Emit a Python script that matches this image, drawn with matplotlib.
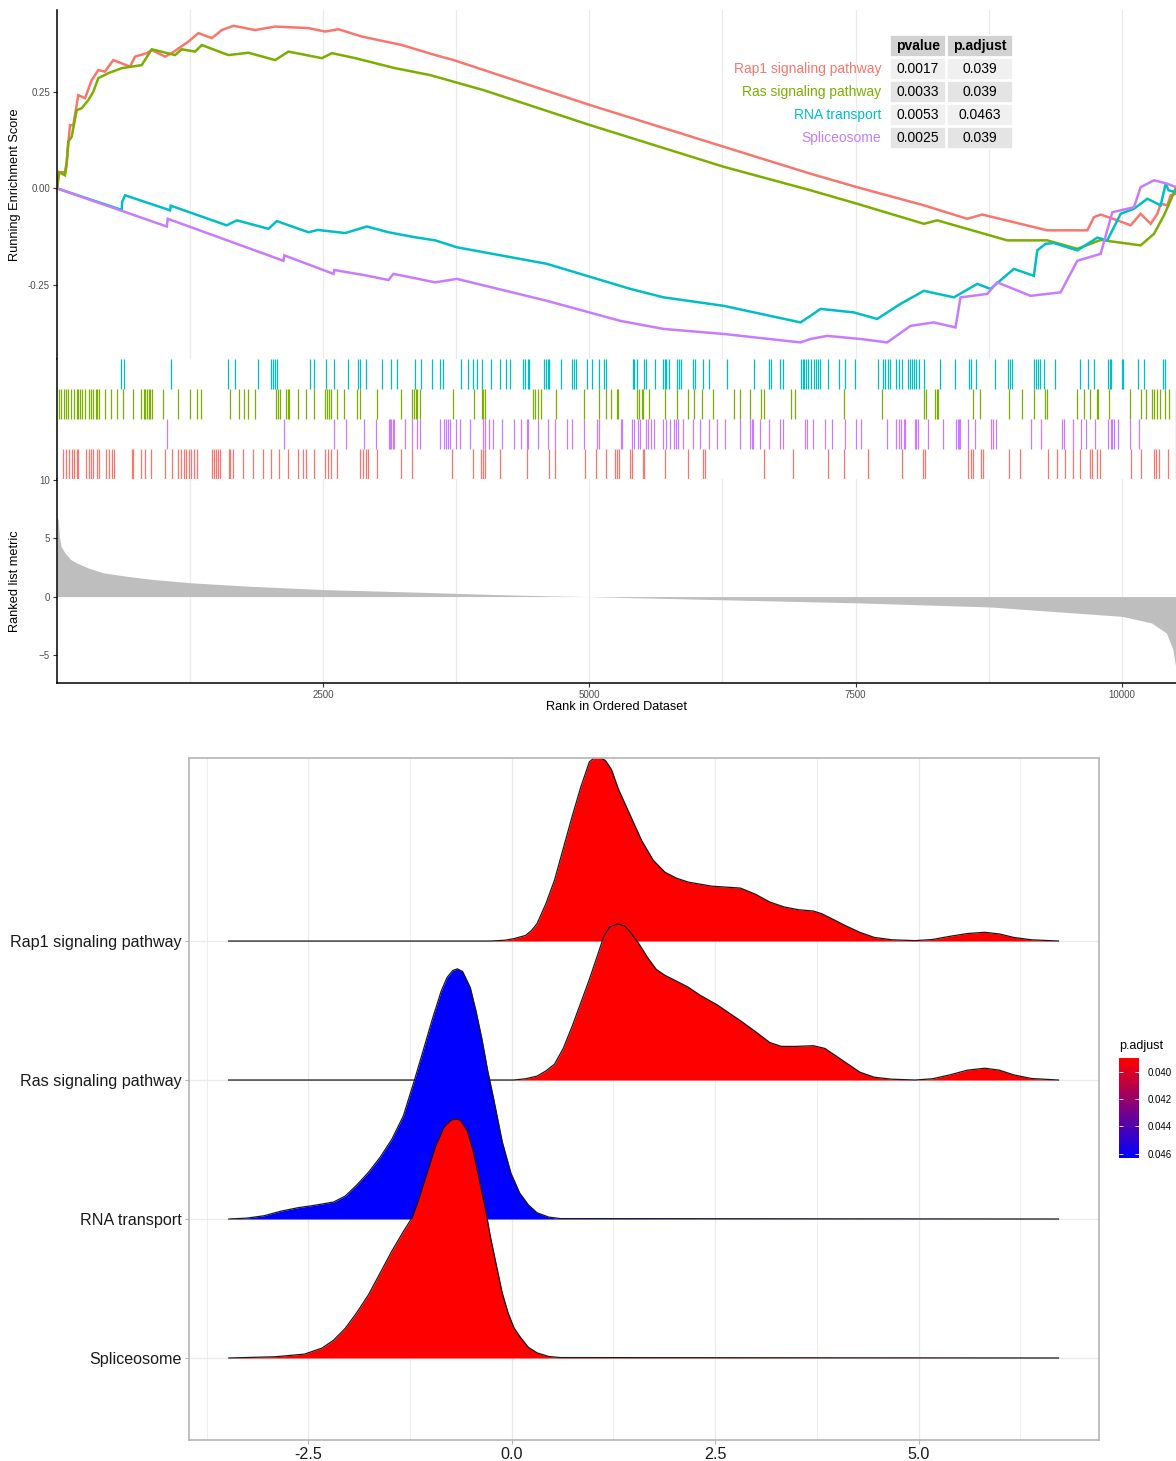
import matplotlib
matplotlib.use("Agg")
import matplotlib.pyplot as plt
from matplotlib.patches import Rectangle
from matplotlib.colors import LinearSegmentedColormap, Normalize
from matplotlib.cm import ScalarMappable
from matplotlib.ticker import FormatStrFormatter

plt.rcParams['font.family'] = ['Liberation Sans', 'DejaVu Sans']

# gene sets and stats
pathways = ["Rap1 signaling pathway", "Ras signaling pathway", "RNA transport", "Spliceosome"]
set_colors = ["#F8766D", "#7CAE00", "#00BFC4", "#C77CFF"]
pvalue = [0.0017, 0.0033, 0.0053, 0.0025]
padjust = [0.039, 0.039, 0.0463, 0.039]
n_genes = 10510

# running enrichment score (rank, score)
rap1_rank = [0, 20, 75, 91, 122, 153, 200, 263, 326, 388, 450, 529, 686, 733, 843, 890, 1015, 1078, 1234, 1328,
             1454, 1548, 1657, 1861, 2049, 2362, 2519, 2644, 2864, 3240, 3552, 3725, 5009, 6262, 7077, 7515, 8142,
             8549, 8690, 9301, 9677, 9739, 9802, 9959, 10084, 10178, 10272, 10335, 10366, 10429, 10460, 10510]
rap1_es = [0, 0.042, 0.042, 0.068, 0.164, 0.164, 0.242, 0.234, 0.281, 0.307, 0.303, 0.333, 0.316, 0.342, 0.351,
           0.359, 0.342, 0.351, 0.381, 0.403, 0.39, 0.411, 0.422, 0.411, 0.42, 0.416, 0.407, 0.413, 0.394, 0.372,
           0.346, 0.333, 0.216, 0.108, 0.038, 0.003, -0.044, -0.079, -0.068, -0.109, -0.109, -0.075, -0.068,
           -0.083, -0.096, -0.066, -0.092, -0.066, -0.04, -0.044, -0.018, -0.014]
ras_rank = [0, 20, 75, 91, 106, 138, 185, 232, 294, 341, 388, 482, 608, 796, 890, 1109, 1172, 1297, 1360, 1610,
            1798, 2049, 2174, 2488, 2582, 2801, 3176, 3505, 4006, 5009, 6262, 7077, 7515, 8142, 8267, 8925, 9301,
            9583, 9802, 10178, 10303, 10397, 10460, 10510]
ras_es = [0, 0.042, 0.034, 0.064, 0.121, 0.134, 0.203, 0.208, 0.229, 0.251, 0.286, 0.299, 0.312, 0.32, 0.361,
          0.346, 0.361, 0.355, 0.372, 0.346, 0.352, 0.333, 0.355, 0.338, 0.351, 0.338, 0.312, 0.294, 0.255, 0.164,
          0.056, -0.005, -0.04, -0.092, -0.083, -0.135, -0.135, -0.157, -0.134, -0.148, -0.118, -0.07, -0.031, 0.003]
rna_rank = [0, 608, 612, 639, 1062, 1068, 1594, 1689, 1986, 2065, 2362, 2450, 2707, 2911, 3113, 3364, 3552, 3756,
            4602, 5385, 5698, 6262, 6983, 7077, 7171, 7484, 7703, 7922, 8142, 8424, 8643, 8768, 8987, 9175, 9207,
            9285, 9364, 9583, 9771, 9865, 9990, 10115, 10241, 10366, 10413, 10440, 10510]
rna_es = [0, -0.056, -0.035, -0.018, -0.057, -0.045, -0.096, -0.083, -0.105, -0.085, -0.114, -0.108, -0.116,
          -0.099, -0.114, -0.127, -0.135, -0.153, -0.196, -0.261, -0.283, -0.305, -0.348, -0.331, -0.313, -0.322,
          -0.339, -0.3, -0.266, -0.283, -0.248, -0.261, -0.209, -0.227, -0.161, -0.144, -0.142, -0.161, -0.128,
          -0.135, -0.066, -0.053, -0.027, -0.044, 0.012, -0.005, -0.01]
spl_rank = [0, 1031, 1040, 2127, 2135, 2597, 2605, 2900, 3113, 3160, 3552, 3756, 4602, 5291, 5698, 6262, 6983,
            7077, 7234, 7547, 7797, 8016, 8235, 8439, 8486, 8737, 8831, 9144, 9426, 9583, 9802, 9912, 10115, 10178,
            10303, 10429, 10510]
spl_es = [0, -0.099, -0.079, -0.188, -0.174, -0.222, -0.212, -0.226, -0.238, -0.222, -0.244, -0.235, -0.292,
          -0.344, -0.365, -0.378, -0.4, -0.391, -0.383, -0.391, -0.4, -0.357, -0.348, -0.361, -0.283, -0.274,
          -0.244, -0.279, -0.27, -0.188, -0.17, -0.062, -0.049, 0.003, 0.021, 0.012, 0.003]

# gene set member positions (rug)
rap1_hits = [58, 83, 112, 137, 162, 184, 198, 274, 299, 320, 335, 374, 392, 461, 493, 515, 536, 705, 716, 788,
             824, 885, 1018, 1076, 1137, 1162, 1191, 1216, 1241, 1263, 1291, 1317, 1453, 1478, 1496, 1514, 1532,
             1615, 1629, 1651, 1748, 1838, 1939, 2011, 2083, 2169, 2263, 2306, 2334, 2413, 2521, 2550, 2575, 2629,
             2845, 2874, 2899, 2924, 3007, 3230, 3331, 3708, 3906, 3978, 4003, 4021, 4158, 4410, 4618, 4679, 4956,
             5064, 5155, 5241, 5258, 5276, 5379, 5400, 5500, 5510, 5707, 5925, 6063, 6087, 6639, 6916, 7244, 7392,
             7613, 7934, 8134, 8152, 8556, 8583, 8607, 8676, 8694, 8946, 9049, 9305, 9391, 9470, 9539, 9609, 9702,
             9719, 9764, 9798, 10092, 10178, 10299, 10323, 10351, 10437, 10506]
ras_hits = [15, 33, 69, 83, 104, 133, 158, 184, 198, 212, 238, 263, 302, 320, 335, 364, 378, 392, 453, 507, 561,
            622, 716, 788, 813, 831, 849, 860, 874, 889, 993, 1137, 1245, 1317, 1356, 1622, 1712, 1759, 1795, 1856,
            2061, 2075, 2090, 2155, 2169, 2180, 2263, 2342, 2414, 2521, 2539, 2557, 2575, 2629, 2694, 2816, 2845,
            3010, 3234, 3334, 3349, 3370, 3385, 3410, 3715, 3917, 3989, 4003, 4018, 4471, 4492, 4514, 4543, 4686,
            4949, 5093, 5155, 5207, 5258, 5269, 5448, 5466, 5490, 5507, 5562, 5714, 5821, 5925, 5987, 6056, 6166,
            6363, 6415, 6505, 6615, 6639, 6898, 6933, 7392, 7744, 8141, 8159, 8245, 8262, 8279, 8607, 8669, 8946,
            9063, 9177, 9281, 9298, 9584, 9643, 9702, 9764, 9781, 9885, 10082, 10178, 10230, 10282, 10299, 10334,
            10358, 10403, 10448, 10506]
rna_hits = [604, 626, 1068, 1604, 1676, 1885, 2007, 2025, 2047, 2068, 2378, 2413, 2525, 2600, 2730, 2823, 2845,
            2903, 3054, 3140, 3198, 3363, 3420, 3518, 3593, 3629, 3791, 3859, 3906, 3942, 3989, 4079, 4161, 4215,
            4258, 4377, 4399, 4420, 4435, 4571, 4589, 4607, 4625, 4737, 4838, 4859, 4877, 4981, 5021, 5093, 5138,
            5155, 5407, 5421, 5448, 5517, 5535, 5614, 5690, 5707, 5724, 5745, 5821, 5845, 5863, 5973, 5994, 6063,
            6128, 6294, 6546, 6684, 6708, 6795, 6816, 6985, 7002, 7019, 7036, 7054, 7078, 7106, 7133, 7147, 7168,
            7244, 7347, 7399, 7492, 7710, 7761, 7779, 7803, 7820, 7882, 7907, 7934, 7996, 8010, 8031, 8045, 8065,
            8093, 8141, 8293, 8435, 8566, 8583, 8632, 8814, 8929, 8953, 8970, 9177, 9194, 9211, 9229, 9274, 9370,
            9609, 9681, 9736, 9867, 9888, 9902, 9999, 10016, 10151, 10206, 10385, 10403]
spl_hits = [1029, 2133, 2600, 2719, 2888, 3000, 3115, 3126, 3140, 3154, 3169, 3270, 3334, 3378, 3413, 3593, 3636,
            3654, 3672, 3690, 3744, 3787, 3881, 4003, 4018, 4061, 4097, 4183, 4291, 4356, 4410, 4428, 4517, 4607,
            4679, 4787, 4841, 4949, 5068, 5093, 5293, 5310, 5396, 5421, 5455, 5476, 5535, 5552, 5579, 5604, 5690,
            5724, 5759, 5794, 5818, 5835, 5880, 5973, 6042, 6128, 6201, 6277, 6415, 6512, 6525, 6536, 6605, 6691,
            6795, 6822, 7026, 7043, 7105, 7216, 7278, 7399, 7503, 7547, 7796, 7882, 7906, 7927, 7951, 7969, 8055,
            8072, 8090, 8183, 8321, 8445, 8459, 8469, 8480, 8556, 8625, 8770, 8790, 8815, 9150, 9246, 9436, 9460,
            9546, 9619, 9660, 9746, 9874, 9895, 9912, 9930, 9964, 10075, 10161, 10506]

# ranked list metric
metric_rank = [1, 11, 22, 37, 73, 127, 181, 289, 433, 649, 901, 1261, 1800, 2500, 3418, 4137, 4677, 5000, 5103,
               7518, 8763, 10006, 10282, 10420, 10480, 10510]
metric_val = [6.8, 6.6, 5.2, 4.34, 3.76, 3.19, 2.9, 2.47, 2.04, 1.75, 1.47, 1.18, 0.89, 0.6, 0.37, 0.17, 0.05,
              0.0, -0.03, -0.54, -0.89, -1.7, -2.27, -3.13, -4.5, -6.2]

# ridgeline densities (x, height)
rap1_dx = [-3.48, -0.26, -0.082, 0.025, 0.168, 0.239, 0.31, 0.418, 0.525, 0.632, 0.74, 0.847, 0.954, 1.011, 1.068,
           1.111, 1.154, 1.225, 1.311, 1.454, 1.597, 1.74, 1.883, 2.026, 2.169, 2.455, 2.81, 2.991, 3.17, 3.349,
           3.527, 3.706, 3.813, 3.956, 4.1, 4.277, 4.456, 4.671, 4.957, 5.171, 5.385, 5.6, 5.814, 5.993, 6.17,
           6.387, 6.72]
rap1_dy = [0, 0, 0.006, 0.017, 0.04, 0.074, 0.125, 0.267, 0.438, 0.665, 0.893, 1.106, 1.29, 1.316, 1.319, 1.313,
           1.297, 1.234, 1.092, 0.907, 0.722, 0.58, 0.495, 0.452, 0.424, 0.395, 0.381, 0.338, 0.281, 0.245, 0.225,
           0.216, 0.196, 0.154, 0.111, 0.063, 0.026, 0.009, 0.003, 0.011, 0.034, 0.054, 0.063, 0.051, 0.026, 0.009,
           0]
ras_dx = [-3.48, 0.025, 0.168, 0.31, 0.418, 0.525, 0.632, 0.74, 0.847, 0.954, 1.061, 1.133, 1.204, 1.297, 1.383,
          1.454, 1.562, 1.669, 1.776, 1.883, 2.026, 2.169, 2.312, 2.527, 2.669, 2.81, 2.991, 3.17, 3.313, 3.491,
          3.706, 3.849, 3.991, 4.134, 4.277, 4.456, 4.671, 4.957, 5.171, 5.385, 5.6, 5.814, 5.993, 6.17, 6.387, 6.72]
ras_dy = [0, 0, 0.009, 0.028, 0.065, 0.114, 0.227, 0.384, 0.554, 0.725, 0.91, 1.038, 1.101, 1.123, 1.109, 1.066,
          0.981, 0.881, 0.796, 0.753, 0.711, 0.668, 0.611, 0.54, 0.483, 0.427, 0.35, 0.27, 0.242, 0.242, 0.247,
          0.227, 0.171, 0.114, 0.057, 0.02, 0.006, 0, 0.009, 0.037, 0.071, 0.085, 0.071, 0.037, 0.011, 0]
rna_dx = [-3.478, -3.263, -3.049, -2.834, -2.62, -2.441, -2.191, -2.048, -1.905, -1.762, -1.619, -1.476, -1.333,
          -1.19, -1.083, -0.976, -0.869, -0.797, -0.726, -0.668, -0.604, -0.511, -0.44, -0.368, -0.297, -0.225,
          -0.118, -0.011, 0.096, 0.203, 0.31, 0.453, 0.596, 6.72]
rna_dy = [0, 0.006, 0.023, 0.057, 0.082, 0.097, 0.122, 0.165, 0.245, 0.336, 0.444, 0.572, 0.742, 1.012, 1.225,
          1.439, 1.638, 1.737, 1.788, 1.8, 1.78, 1.666, 1.496, 1.297, 1.069, 0.87, 0.557, 0.33, 0.188, 0.102, 0.045,
          0.014, 0.003, 0]
spl_dx = [-3.478, -2.906, -2.548, -2.334, -2.191, -2.048, -1.905, -1.762, -1.619, -1.476, -1.333, -1.226, -1.155,
          -1.047, -0.94, -0.833, -0.747, -0.69, -0.633, -0.547, -0.476, -0.404, -0.332, -0.261, -0.19, -0.118,
          -0.047, 0.025, 0.096, 0.203, 0.31, 0.453, 0.596, 6.72]
spl_dy = [0, 0.009, 0.028, 0.071, 0.128, 0.213, 0.327, 0.455, 0.611, 0.768, 0.91, 1.009, 1.123, 1.322, 1.521,
          1.663, 1.712, 1.72, 1.712, 1.635, 1.493, 1.294, 1.095, 0.867, 0.668, 0.469, 0.327, 0.219, 0.156, 0.077,
          0.037, 0.011, 0.003, 0]

es_ranks = [rap1_rank, ras_rank, rna_rank, spl_rank]
es_scores = [rap1_es, ras_es, rna_es, spl_es]
hits = [rap1_hits, ras_hits, rna_hits, spl_hits]
dens_x = [rap1_dx, ras_dx, rna_dx, spl_dx]
dens_y = [rap1_dy, ras_dy, rna_dy, spl_dy]

W, H = 1176, 1461
fig = plt.figure(figsize=(W / 100, H / 100), dpi=100)


def box(x0, y0, x1, y1):
    return [x0 / W, 1 - y1 / H, (x1 - x0) / W, (y1 - y0) / H]


grid_c = "#EBEBEB"
tick_c = "#4D4D4D"

# --- running enrichment score
ax1 = fig.add_axes(box(57, 10, 1176, 359))
for v in range(1250, n_genes, 1250):
    ax1.axvline(v, color=grid_c, lw=0.9, zorder=0)
for r, s, c in zip(es_ranks, es_scores, set_colors):
    ax1.plot(r, s, color=c, lw=1.8, solid_joinstyle='miter')
ax1.set_xlim(0, n_genes)
ax1.set_ylim(-0.443, 0.463)
ax1.set_yticks([-0.25, 0, 0.25])
ax1.yaxis.set_major_formatter(FormatStrFormatter('%.2f'))
ax1.set_xticks([])
for s in ['top', 'right', 'bottom']:
    ax1.spines[s].set_visible(False)
ax1.spines['left'].set_linewidth(1.1)
ax1.tick_params(axis='y', labelsize=7, labelcolor=tick_c, color='#333333', length=3, width=0.8, pad=2)
fig.text(15 / W, 1 - 184.5 / H, "Running Enrichment Score", rotation=90, ha='center', va='center', fontsize=9.2)

# table
col_l = [890, 947]
col_r = [946, 1013]
row_t = [35, 58, 81, 104, 127]
fills = ["#D2D2D2", "#F0F0F0", "#E4E4E4", "#F0F0F0", "#E4E4E4"]
header = ["pvalue", "p.adjust"]
for i in range(5):
    for j in range(2):
        fig.add_artist(Rectangle((col_l[j] / W, 1 - (row_t[i] + 22) / H), (col_r[j] - col_l[j]) / W, 22 / H,
                                 transform=fig.transFigure, facecolor=fills[i], edgecolor='white', lw=1.2))
for j in range(2):
    fig.text((col_l[j] + col_r[j]) / 2 / W, 1 - (row_t[0] + 11) / H, header[j], ha='center', va='center',
             fontsize=10, fontweight='bold')
for i, name in enumerate(pathways):
    yc = 1 - (row_t[i + 1] + 11) / H
    fig.text(881 / W, yc, name, ha='right', va='center', fontsize=10, color=set_colors[i])
    fig.text((col_l[0] + col_r[0]) / 2 / W, yc, str(pvalue[i]), ha='center', va='center', fontsize=10)
    fig.text((col_l[1] + col_r[1]) / 2 / W, yc, str(padjust[i]), ha='center', va='center', fontsize=10)

# --- rug of gene positions
ax2 = fig.add_axes(box(57, 359, 1176, 479))
rug_row = [0, 2, 3, 1]
for h, c, row in zip(hits, set_colors, rug_row):
    ax2.vlines(h, row, row + 1, color=c, lw=0.9)
ax2.set_xlim(0, n_genes)
ax2.set_ylim(0, 4)
ax2.set_xticks([])
ax2.set_yticks([])
for s in ['top', 'right', 'bottom']:
    ax2.spines[s].set_visible(False)
ax2.spines['left'].set_linewidth(1.1)

# --- ranked list metric
ax3 = fig.add_axes(box(57, 479, 1176, 683))
for v in range(1250, n_genes, 1250):
    ax3.axvline(v, color=grid_c, lw=0.9, zorder=0)
ax3.fill_between(metric_rank, metric_val, 0, color="#BEBEBE", lw=0)
ax3.set_xlim(0, n_genes)
ax3.set_ylim(-7.414, 10.086)
ax3.set_yticks([-5, 0, 5, 10])
ax3.set_xticks([2500, 5000, 7500, 10000])
for s in ['top', 'right']:
    ax3.spines[s].set_visible(False)
ax3.spines['left'].set_linewidth(1.1)
ax3.spines['bottom'].set_linewidth(1.1)
ax3.tick_params(labelsize=7, labelcolor=tick_c, color='#333333', length=3, width=0.8, pad=2)
fig.text(15 / W, 1 - 581 / H, "Ranked list metric", rotation=90, ha='center', va='center', fontsize=9.2)
fig.text(616 / W, 1 - 707 / H, "Rank in Ordered Dataset", ha='center', va='center', fontsize=9.2)

# --- ridgeline plot
cmap = LinearSegmentedColormap.from_list("padj", ["#FF0000", "#0000FF"])
norm = Normalize(min(padjust), max(padjust))

ax4 = fig.add_axes(box(189, 758, 1099, 1440))
for v in [-3.75, -1.25, 1.25, 3.75, 6.25]:
    ax4.axvline(v, color=grid_c, lw=0.6, zorder=0)
for v in [-2.5, 0, 2.5, 5.0]:
    ax4.axvline(v, color=grid_c, lw=1.0, zorder=0)
n = len(pathways)
for i in range(n):
    ax4.axhline(n - i, color=grid_c, lw=1.0, zorder=0)
for i, name in enumerate(pathways):
    base = n - i
    top = [base + d for d in dens_y[i]]
    ax4.fill_between(dens_x[i], top, base, color=cmap(norm(padjust[i])), lw=0, zorder=2 + i)
    ax4.plot(dens_x[i], top, color='#1A1A1A', lw=0.9, zorder=2 + i)
ax4.set_xlim(-3.968, 7.218)
ax4.set_ylim(0.41, 5.317)
ax4.set_yticks([n - i for i in range(n)])
ax4.set_yticklabels(pathways)
ax4.set_xticks([-2.5, 0, 2.5, 5.0])
ax4.set_xticklabels(['-2.5', '0.0', '2.5', '5.0'])
for s in ax4.spines.values():
    s.set_color('#B5B5B5')
    s.set_linewidth(1.2)
ax4.tick_params(labelsize=11.6, labelcolor='#1A1A1A', color='#B5B5B5', length=3, width=0.8, pad=2)

# colour bar
cax = fig.add_axes(box(1119, 1058, 1139, 1158))
cb = fig.colorbar(ScalarMappable(norm=norm, cmap=cmap), cax=cax)
cb.outline.set_visible(False)
cax.invert_yaxis()
cb.set_ticks([0.040, 0.042, 0.044, 0.046])
cax.yaxis.set_major_formatter(FormatStrFormatter('%.3f'))
cax.tick_params(labelsize=7, direction='in', color='white', length=3, width=0.6, left=True, right=True, pad=6)
fig.text(1119 / W, 1 - 1046 / H, "p.adjust", ha='left', va='center', fontsize=9)

fig.savefig("out.png", dpi=100)
